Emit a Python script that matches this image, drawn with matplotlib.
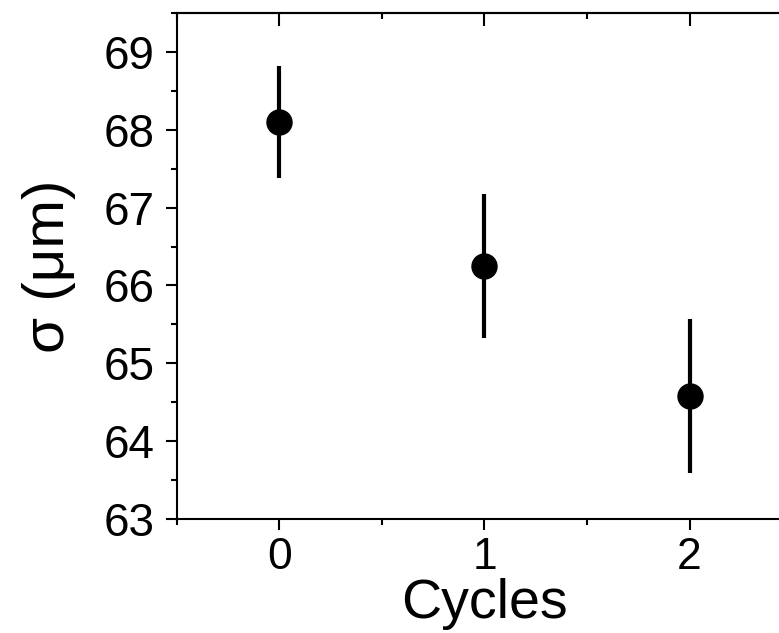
import numpy as np
import matplotlib.pyplot as plt
from matplotlib.ticker import MultipleLocator

plt.rcParams['font.family'] = ['Liberation Sans', 'DejaVu Sans']

# data
cycles = [0, 1, 2]
sigma = [68.10, 66.25, 64.58]
sigma_err = [0.72, 0.92, 0.99]

fig = plt.figure(figsize=(7.79, 6.33), dpi=100)
# axes runs past the right edge, like the cropped original
ax = fig.add_axes([0.2272, 0.1801, 0.7895, 0.7994])

ax.errorbar(cycles, sigma, yerr=sigma_err, fmt='o', color='black',
            ms=18, elinewidth=3, capsize=0)

ax.set_xlim(-0.5, 2.5)
ax.set_ylim(63, 69.5)
ax.xaxis.set_major_locator(MultipleLocator(1))
ax.xaxis.set_minor_locator(MultipleLocator(0.5))
ax.yaxis.set_major_locator(MultipleLocator(1))
ax.yaxis.set_minor_locator(MultipleLocator(0.5))

for s in ax.spines.values():
    s.set_linewidth(1.5)

ax.tick_params(which='both', direction='out', width=1.5, labelsize=33,
               top=False, right=False)
ax.tick_params(which='major', length=8)
ax.tick_params(which='minor', length=4)
ax.tick_params(axis='x', pad=5, labelsize=32)
ax.tick_params(axis='y', pad=8)

# mirror ticks on top, pointing in
top = ax.secondary_xaxis('top')
top.xaxis.set_major_locator(MultipleLocator(1))
top.xaxis.set_minor_locator(MultipleLocator(0.5))
top.tick_params(which='both', direction='in', width=1.5, labeltop=False)
top.tick_params(which='major', length=9)
top.tick_params(which='minor', length=4)
top.spines['top'].set_linewidth(1.5)

ax.set_xlabel('Cycles', fontsize=40, labelpad=0)
ax.set_ylabel('σ (μm)', fontsize=42, labelpad=20)

fig.savefig('out.png', dpi=100)
